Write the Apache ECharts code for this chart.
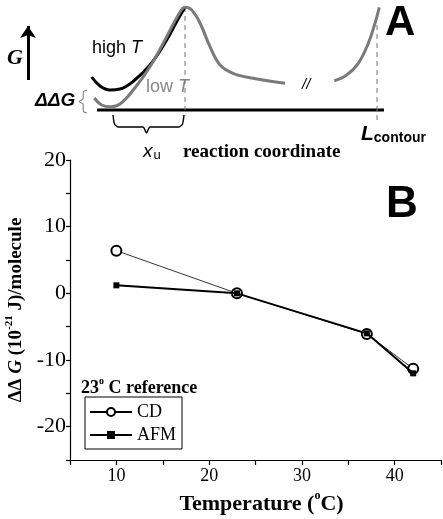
<!DOCTYPE html>
<html><head><meta charset="utf-8">
<script src="https://cdn.jsdelivr.net/npm/echarts@6/dist/echarts.min.js"></script>
<style>html,body{margin:0;padding:0;background:#fff}#c{width:443px;height:519px}</style>
</head><body><div id="c"></div>
<script>
// ---- Panel B data ----
const temperatures = [10, 23, 37, 42];
const cdValues = [6.4, 0, -6.1, -11.3];
const afmValues = [1.2, 0, -6.0, -12.0];
const seriesNames = ['CD', 'AFM'];
const xTickLabels = [10, 20, 30, 40];
const yTickLabels = [-20, -10, 0, 10, 20];

// ---- Panel A schematic (picture units) ----
const highTCurve = [[91.7,77],[100,86],[110,90],[120,89],[133,81.5],[150,65],[166.7,40],[176.7,21.5],[185,7.3]];
const lowTCurve = [[94.3,98],[101.7,105],[111,106.7],[120,104],[133.3,90],[150,66.7],[166.7,36.7],[178.3,15],[185,7.3],[191.7,10],[200,23],[210,46.7],[220,65],[233,73.3],[253,78.3],[285,83.3]];
const contourWall = [[334.3,80.7],[346.7,75],[358.3,63.3],[368.3,43.3],[375,23.3],[379.3,7.3]];
const baseline = [[97,110],[384,110]];
const barrierMarker = [[185,7],[185,110]];
const contourMarker = [[377,25],[377,123]];
const gArrow = [[28,80],[28,26]];
const xuBrace = [[113,115],[114.5,124],[118,127],[143,127],[146.5,133],[150,127],[179,127],[182.5,124],[184,115]];
const ddgBrace = [[87,90],[83.5,91.5],[83,99],[79,101.5],[83,104],[83.5,111.5],[87,113]];

const SERIF = '"Liberation Serif", "Times New Roman", serif';
const SANS = '"Liberation Sans", Arial, sans-serif';

const chart = echarts.init(document.getElementById('c'), null, {renderer: 'canvas'});

const schem = (data, color, width, extra) => Object.assign({
  type: 'line', xAxisIndex: 1, yAxisIndex: 1, data: data, showSymbol: false, symbol: 'none',
  silent: true, animation: false, lineStyle: {color: color, width: width}, z: 3
}, extra || {});

const option = {
  animation: false,
  backgroundColor: '#fff',
  grid: [
    {left: 70, top: 160, right: 2, bottom: 59, containLabel: false, outerBoundsMode: 'none'},
    {left: 0, top: 0, right: 0, bottom: 0, containLabel: false, outerBoundsMode: 'none'}
  ],
  xAxis: [
    {
      type: 'value', gridIndex: 0, min: 5, max: 45, interval: 5,
      axisLine: {show: true, onZero: false, lineStyle: {color: '#000', width: 1.2}},
      axisTick: {show: true, inside: false, length: 5, lineStyle: {color: '#000', width: 1.2}},
      splitLine: {show: false},
      axisLabel: {
        color: '#000', fontFamily: SERIF, fontSize: 18, margin: 7,
        formatter: v => xTickLabels.indexOf(v) >= 0 ? String(v) : ''
      },
      name: '{b|Temperature (}{sup|o}{b|C)}', nameLocation: 'middle', nameGap: 30,
      nameTextStyle: {
        color: '#000', fontFamily: SERIF, fontWeight: 'bold', fontSize: 22,
        padding: [0, 0, 0, 12],
        rich: {
          b: {fontFamily: SERIF, fontWeight: 'bold', fontSize: 22, lineHeight: 28, color: '#000'},
          sup: {fontFamily: SERIF, fontWeight: 'bold', fontSize: 12, lineHeight: 14, verticalAlign: 'top', color: '#000'}
        }
      }
    },
    {type: 'value', gridIndex: 1, min: 0, max: 443, show: false}
  ],
  yAxis: [
    {
      type: 'value', gridIndex: 0, min: -25, max: 20, interval: 5,
      axisLine: {show: true, onZero: false, lineStyle: {color: '#000', width: 1.2}},
      axisTick: {show: true, inside: false, length: 4, lineStyle: {color: '#000', width: 1.2}},
      splitLine: {show: false},
      axisLabel: {
        color: '#000', fontFamily: SERIF, fontSize: 22, margin: 4,
        formatter: v => yTickLabels.indexOf(v) >= 0 ? String(v) : ''
      },
      name: '{b|ΔΔ }{bi|G}{b| (10}{sup|-21}{b| J)/molecule}', nameLocation: 'middle', nameGap: 39, nameRotate: 90,
      nameTextStyle: {
        color: '#000', fontFamily: SERIF, fontWeight: 'bold', fontSize: 19,
        rich: {
          b: {fontFamily: SERIF, fontWeight: 'bold', fontSize: 19, lineHeight: 26, color: '#000'},
          bi: {fontFamily: SERIF, fontWeight: 'bold', fontStyle: 'italic', fontSize: 19, lineHeight: 26, color: '#000'},
          sup: {fontFamily: SERIF, fontWeight: 'bold', fontSize: 11, lineHeight: 12, verticalAlign: 'top', color: '#000'}
        }
      }
    },
    {type: 'value', gridIndex: 1, min: 0, max: 519, inverse: true, show: false}
  ],
  legend: {
    data: seriesNames, orient: 'vertical', left: 85, top: 397,
    itemWidth: 42, itemHeight: 10, itemGap: 5,
    padding: [6, 6, 5, 4],
    borderColor: '#000', borderWidth: 1, borderRadius: 0,
    textStyle: {fontFamily: SERIF, fontSize: 18, color: '#000'},
    selectedMode: false
  },
  series: [
    {
      name: 'CD', type: 'line', xAxisIndex: 0, yAxisIndex: 0,
      data: temperatures.map((t, i) => [t, cdValues[i]]),
      symbol: 'emptyCircle', symbolSize: 10, showAllSymbol: true,
      lineStyle: {color: '#000', width: 0.8},
      itemStyle: {color: '#000', borderColor: '#000', borderWidth: 1},
      z: 4
    },
    {
      name: 'AFM', type: 'line', xAxisIndex: 0, yAxisIndex: 0,
      data: temperatures.map((t, i) => [t, afmValues[i]]),
      symbol: 'rect', symbolSize: 6, showAllSymbol: true,
      lineStyle: {color: '#000', width: 2},
      itemStyle: {color: '#000'},
      z: 5
    },
    schem(baseline, '#000', 3),
    schem(barrierMarker, '#777', 1, {lineStyle: {color: '#777', width: 1, type: [5, 4]}}),
    schem(contourMarker, '#777', 1, {lineStyle: {color: '#777', width: 1, type: [5, 4]}}),
    schem(highTCurve, '#000', 3, {smooth: 0.4}),
    schem(lowTCurve, '#7a7a7a', 3, {smooth: 0.4}),
    schem(contourWall, '#7a7a7a', 3, {smooth: 0.4}),
    schem(xuBrace, '#000', 1.4, {smooth: 0.2}),
    schem(ddgBrace, '#888', 1.2, {smooth: 0.2}),
    {
      type: 'lines', coordinateSystem: 'cartesian2d', xAxisIndex: 1, yAxisIndex: 1,
      silent: true, animation: false,
      symbol: ['none', 'arrow'], symbolSize: [0, 12],
      lineStyle: {color: '#000', width: 3, opacity: 1, curveness: 0},
      data: [{coords: gArrow}]
    }
  ],
  graphic: [
    {type: 'text', silent: true, style: {x: 92, y: 48, textVerticalAlign: 'middle',
      text: 'high {i|T}', font: '18px ' + SANS, fill: '#000',
      rich: {i: {fontFamily: SANS, fontStyle: 'italic', fontSize: 18, fill: '#000'}}}},
    {type: 'text', silent: true, style: {x: 146, y: 87, textVerticalAlign: 'middle',
      text: 'low {i|T}', font: '18px ' + SANS, fill: '#888',
      rich: {i: {fontFamily: SANS, fontStyle: 'italic', fontSize: 18, fill: '#888'}}}},
    {type: 'text', silent: true, style: {x: 7, y: 58, textVerticalAlign: 'middle',
      text: 'G', font: 'italic bold 22px ' + SERIF, fill: '#000'}},
    {type: 'text', silent: true, style: {x: 35, y: 101, textVerticalAlign: 'middle',
      text: 'ΔΔG', font: 'italic bold 19px ' + SANS, fill: '#000'}},
    {type: 'text', silent: true, style: {x: 143, y: 152, textVerticalAlign: 'middle',
      text: '{x|x}{u|u}', fill: '#000',
      rich: {x: {fontFamily: SANS, fontStyle: 'italic', fontSize: 19, fill: '#000'},
             u: {fontFamily: SANS, fontSize: 13, fill: '#000', padding: [6, 0, 0, 1]}}}},
    {type: 'text', silent: true, style: {x: 183, y: 152, textVerticalAlign: 'middle',
      text: 'reaction coordinate', font: 'bold 19px ' + SERIF, fill: '#000'}},
    {type: 'text', silent: true, style: {x: 302, y: 85, textVerticalAlign: 'middle',
      text: '//', font: 'italic 15px ' + SANS, fill: '#000'}},
    {type: 'text', silent: true, style: {x: 361, y: 134, textVerticalAlign: 'middle',
      text: '{L|L}{c|contour}', fill: '#000',
      rich: {L: {fontFamily: SANS, fontStyle: 'italic', fontWeight: 'bold', fontSize: 21, fill: '#000'},
             c: {fontFamily: SANS, fontWeight: 'bold', fontSize: 14, fill: '#000', padding: [8, 0, 0, 0]}}}},
    {type: 'text', silent: true, style: {x: 385, y: 23, textVerticalAlign: 'middle',
      text: 'A', font: 'bold 42px ' + SANS, fill: '#000'}},
    {type: 'text', silent: true, style: {x: 386, y: 205, textVerticalAlign: 'middle',
      text: 'B', font: 'bold 44px ' + SANS, fill: '#000'}},
    {type: 'text', silent: true, style: {x: 81, y: 388, textVerticalAlign: 'middle',
      text: '{b|23}{sup|o}{b| C reference}', fill: '#000',
      rich: {b: {fontFamily: SERIF, fontWeight: 'bold', fontSize: 18, lineHeight: 24, fill: '#000'},
             sup: {fontFamily: SERIF, fontWeight: 'bold', fontSize: 10, lineHeight: 12, verticalAlign: 'top', fill: '#000'}}}}
  ]
};
chart.setOption(option);
</script>
</body></html>
